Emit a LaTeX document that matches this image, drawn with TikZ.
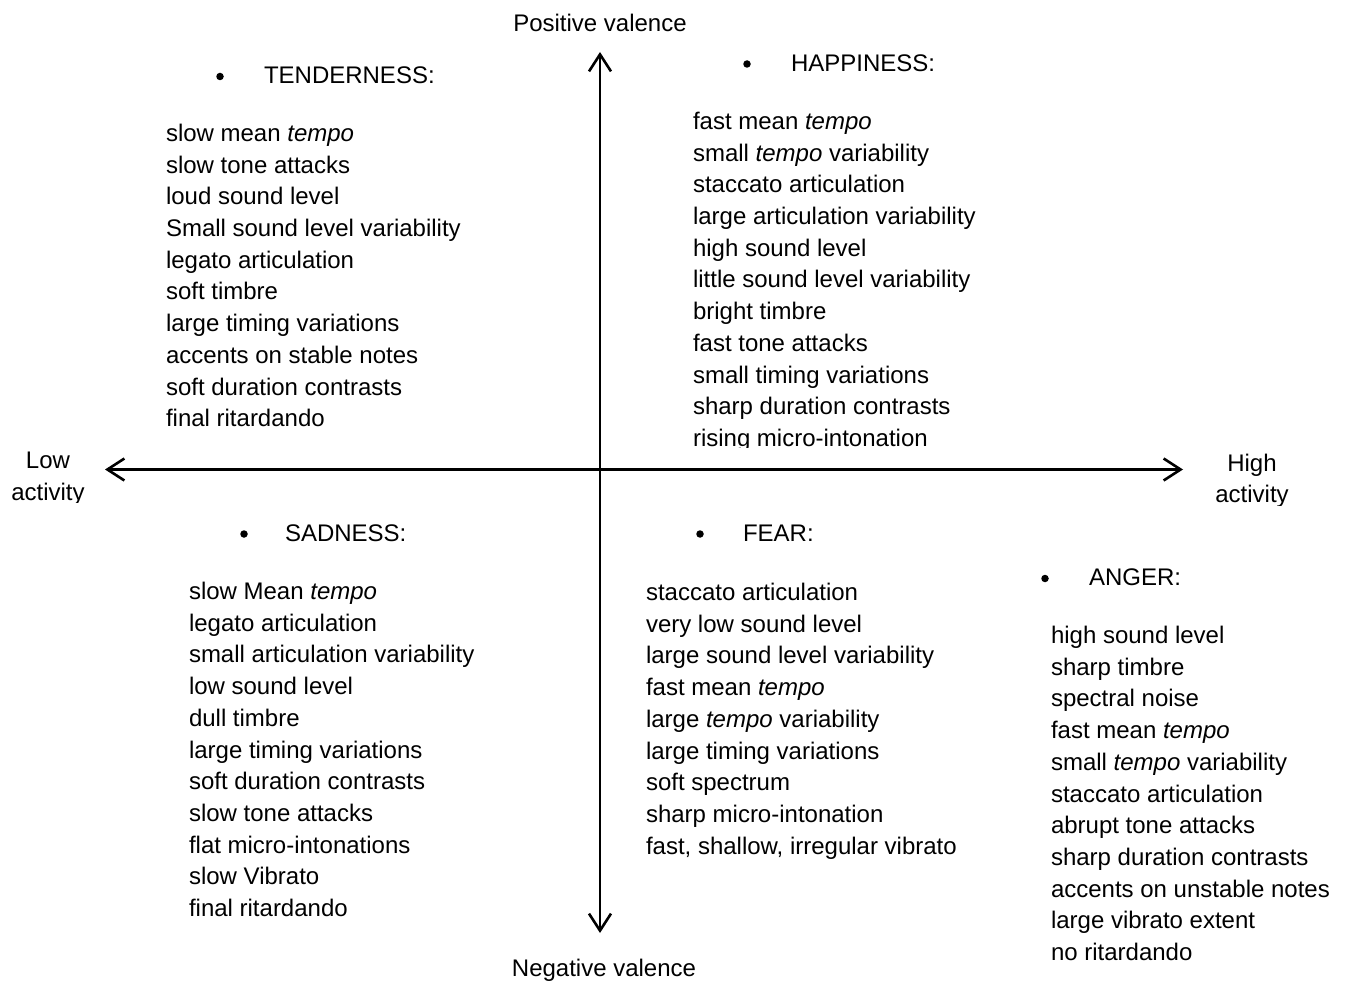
\documentclass[tikz,border=0pt]{standalone}
\usepackage{fontspec}
\setmainfont{Liberation Sans}
\usetikzlibrary{arrows.meta}

% one cue per line, starting at (x, first baseline), fixed line pitch
\newcommand\cuelist[4]{%
  \foreach \cue [count=\k from 0] in {#4} {
    \node[cue] (#1-\k) at (#2, #3+31.7*\k) {\cue};
  }%
}

\begin{document}
\begin{tikzpicture}[x=1pt, y=-1pt,
  every node/.style={inner sep=0pt, outer sep=0pt, font=\fontsize{24}{31.7}\selectfont},
  cue/.style={anchor=base west},
  axislabel/.style={anchor=base},
  bulletmark/.style={circle, fill=black, minimum size=7.5pt},
  axisline/.style={line width=2.6pt,
    {Straight Barb[length=17pt,width=22pt]}-{Straight Barb[length=17pt,width=22pt]}}
]
\useasboundingbox (0,0) rectangle (1346,981);

% axes
\coordinate (west) at (105,469.5);
\coordinate (east) at (1183,469.5);
\coordinate (north) at (600,52);
\coordinate (south) at (600,933);
\draw[axisline] (west) -- (east);
\draw[axisline] (north) -- (south);

% axis labels
\node[axislabel] (posval) at (600,32) {Positive valence};
\node[axislabel] (negval) at (604,976) {Negative valence};
\node[axislabel] (low-a) at (48,468) {Low};
\node[axislabel] (high-a) at (1252,471) {High};
\begin{scope}
  \clip (0,480) rectangle (110,502.5);
  \node[axislabel] (low-b) at (48,500) {activity};
\end{scope}
\begin{scope}
  \clip (1200,482) rectangle (1346,505);
  \node[axislabel] (high-b) at (1252,502.5) {activity};
\end{scope}

% tenderness
\node[bulletmark] (tend-dot) at (220,76.5) {};
\node[cue] (tend-head) at (264,84) {TENDERNESS:};
\cuelist{tend}{166}{141.5}{slow mean \textit{tempo}, slow tone attacks, loud sound level,
  Small sound level variability, legato articulation, soft timbre,
  large timing variations, accents on stable notes, soft duration contrasts,
  final ritardando}

% happiness
\node[bulletmark] (happy-dot) at (747,64) {};
\node[cue] (happy-head) at (791,71.5) {HAPPINESS:};
\cuelist{happy}{693}{129.5}{fast mean \textit{tempo}, small \textit{tempo} variability,
  staccato articulation, large articulation variability, high sound level,
  little sound level variability, bright timbre, fast tone attacks,
  small timing variations, sharp duration contrasts}
\begin{scope}
  \clip (680,425) rectangle (1000,447.5);
  \node[cue] (happy-10) at (693,446.5) {rising micro-intonation};
\end{scope}

% sadness
\node[bulletmark] (sad-dot) at (244,534) {};
\node[cue] (sad-head) at (285,541.5) {SADNESS:};
\cuelist{sad}{189}{599.5}{slow Mean \textit{tempo}, legato articulation,
  small articulation variability, low sound level, dull timbre,
  large timing variations, soft duration contrasts, slow tone attacks,
  flat micro-intonations, slow Vibrato, final ritardando}

% fear
\node[bulletmark] (fear-dot) at (700,534) {};
\node[cue] (fear-head) at (743,541.5) {FEAR:};
\cuelist{fear}{646}{600.5}{staccato articulation, very low sound level,
  large sound level variability, fast mean \textit{tempo},
  large \textit{tempo} variability, large timing variations, soft spectrum,
  sharp micro-intonation, {fast, shallow, irregular vibrato}}

% anger
\node[bulletmark] (anger-dot) at (1045,578.5) {};
\node[cue] (anger-head) at (1089,585.5) {ANGER:};
\cuelist{anger}{1051}{643.5}{high sound level, sharp timbre, spectral noise,
  fast mean \textit{tempo}, small \textit{tempo} variability, staccato articulation,
  abrupt tone attacks, sharp duration contrasts, accents on unstable notes,
  large vibrato extent, no ritardando}
\end{tikzpicture}
\end{document}
